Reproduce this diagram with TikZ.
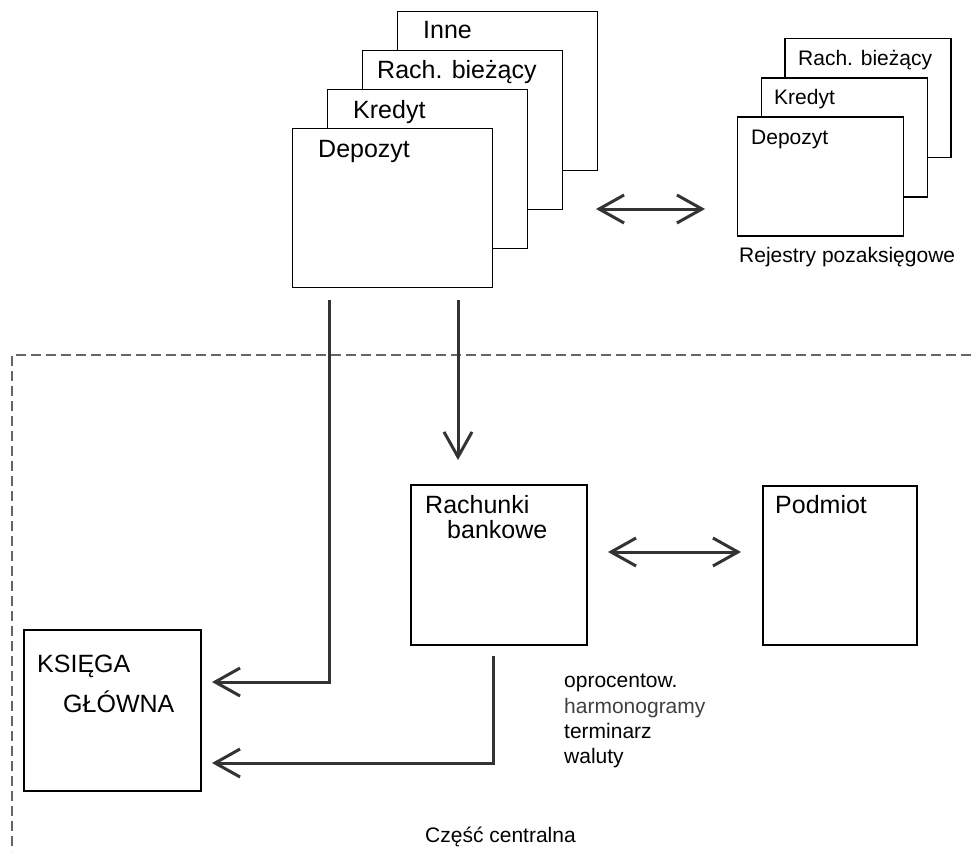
\documentclass[tikz,border=0pt]{standalone}
\usepackage{fontspec}
\setmainfont{Liberation Sans}
\usetikzlibrary{arrows.meta}

\begin{document}
\begin{tikzpicture}[x=1pt, y=-1pt,
  box/.style={draw, line width=1.4pt, fill=white, inner sep=0pt},
  big/.style={anchor=base west, inner sep=0pt, font=\fontsize{25}{30}\selectfont},
  small/.style={anchor=base west, inner sep=0pt, font=\fontsize{21}{25}\selectfont},
  arr/.style={line width=3pt, color=black!80, -{Straight Barb[length=25pt,width=28pt]}},
  dblarr/.style={line width=3pt, color=black!80, {Straight Barb[length=25pt,width=28pt]}-{Straight Barb[length=25pt,width=28pt]}}]
\useasboundingbox (0,0) rectangle (971,851);

% czesc centralna
\draw[dashed, color=black!60, line width=1.1pt, dash pattern=on 10pt off 5pt] (971,355) -- (12,355) -- (12,851);

% glowny stos
\node[box, minimum width=200pt, minimum height=159pt] at (497.5,91) (inne) {};
\node[box, minimum width=200pt, minimum height=159pt] at (462.5,130) (rach) {};
\node[box, minimum width=200pt, minimum height=159pt] at (427.5,169) (kred) {};
\node[box, minimum width=200pt, minimum height=159pt] at (392.5,208) (depo) {};
\node[big] at (423,38) (tinne) {Inne};
\node[big] at (377,78) (trach) {Rach. bieżący};
\node[big] at (353,118) (tkred) {Kredyt};
\node[big] at (318,157) (tdepo) {Depozyt};

% rejestry
\node[box, minimum width=166pt, minimum height=119pt] at (868,98) (rrach) {};
\node[box, minimum width=166pt, minimum height=119pt] at (844.5,137.5) (rkred) {};
\node[box, minimum width=166pt, minimum height=119pt] at (820.5,176.5) (rdepo) {};
\node[small] at (798,66) (trrach) {Rach. bieżący};
\node[small] at (774,104) (trkred) {Kredyt};
\node[small] at (751,144) (trdepo) {Depozyt};
\node[small] at (739,262) (trej) {Rejestry pozaksięgowe};

% czesc centralna
\node[box, minimum width=176pt, minimum height=160pt] at (499,565) (rb) {};
\node[box, minimum width=154pt, minimum height=159pt] at (840,565.5) (pm) {};
\node[box, minimum width=177pt, minimum height=161pt] at (112.5,710.5) (ks) {};
\node[big] at (425,513) (trb1) {Rachunki};
\node[big] at (447,538) (trb2) {bankowe};
\node[big] at (775,513) (tpm) {Podmiot};
\node[big] at (37,672) (tks1) {KSIĘGA};
\node[big] at (63,712) (tks2) {GŁÓWNA};
\node[small] at (564,687) (op1) {oprocentow.};
\node[small, color=black!75] at (564,713) (op2) {harmonogramy};
\node[small] at (564,738) (op3) {terminarz};
\node[small] at (564,763) (op4) {waluty};
\node[small] at (425,842) (tcc) {Część centralna};

% polaczenia
\coordinate (d1) at (329,300);
\coordinate (d2) at (458,300);
\coordinate (r1) at (493,656);
\coordinate (k1) at (212,682);
\coordinate (k2) at (212,763);
\coordinate (s1) at (596,209);
\coordinate (s2) at (705,209);
\coordinate (p1) at (608,552);
\coordinate (p2) at (741,552);

\draw[arr] (d1) |- (k1);
\draw[arr] (r1) |- (k2);
\draw[arr] (d2) -- (d2 |- 0,460);
\draw[dblarr] (s1) -- (s2);
\draw[dblarr] (p1) -- (p2);

\end{tikzpicture}
\end{document}
